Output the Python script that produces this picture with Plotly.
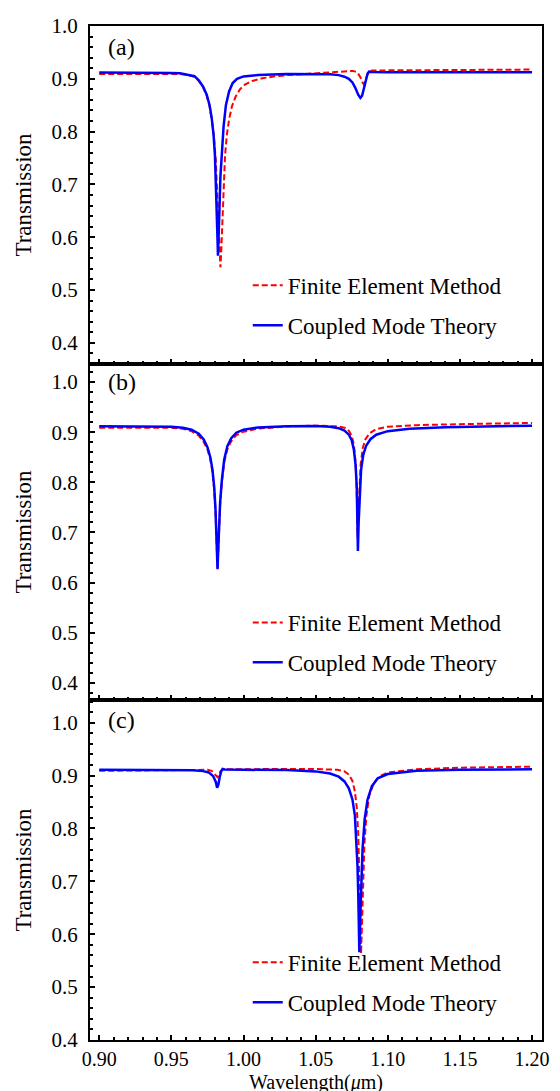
import plotly.graph_objects as go

# ---------------- data ----------------
# Panel (a)
wl_a_fem = [0.900, 0.920, 0.940, 0.950, 0.956, 0.962, 0.966, 0.969, 0.972, 0.9745, 0.9765, 0.978,
            0.9795, 0.9808, 0.9818, 0.9826, 0.9833, 0.9840, 0.9846, 0.9853, 0.9862, 0.9872, 0.9885,
            0.9900, 0.9920, 0.9945, 0.9975, 1.0010, 1.0060, 1.0130, 1.0200, 1.0300, 1.0450, 1.0600,
            1.0700, 1.0760, 1.0790, 1.0810, 1.0825, 1.0833, 1.0842, 1.0855, 1.0870, 1.0890, 1.1000,
            1.1500, 1.2000]
tr_a_fem = [0.909, 0.909, 0.9095, 0.9095, 0.909, 0.907, 0.904, 0.896, 0.884, 0.868, 0.848, 0.822,
            0.790, 0.745, 0.690, 0.635, 0.585, 0.543, 0.575, 0.630, 0.700, 0.755, 0.795,
            0.823, 0.848, 0.866, 0.880, 0.889, 0.896, 0.901, 0.904, 0.907, 0.9095, 0.9125,
            0.9145, 0.915, 0.912, 0.903, 0.893, 0.890, 0.894, 0.905, 0.913, 0.9155, 0.916,
            0.9165, 0.9175]
wl_a_cmt = [0.900, 0.920, 0.940, 0.950, 0.956, 0.962, 0.966, 0.969, 0.972, 0.9745, 0.9765, 0.978,
            0.9792, 0.9802, 0.9810, 0.9816, 0.9820, 0.9823, 0.9827, 0.9833, 0.9840, 0.9850, 0.9862,
            0.9878, 0.9900, 0.9925, 0.9955, 1.000, 1.010, 1.030, 1.050, 1.060, 1.066, 1.070, 1.073,
            1.0755, 1.0775, 1.0795, 1.0810, 1.0822, 1.0835, 1.0848, 1.0860, 1.0870, 1.0885, 1.100,
            1.150, 1.200]
tr_a_cmt = [0.912, 0.912, 0.9115, 0.911, 0.9105, 0.908, 0.905, 0.897, 0.885, 0.870, 0.850, 0.825,
            0.795, 0.755, 0.700, 0.640, 0.595, 0.565, 0.590, 0.650, 0.715, 0.770, 0.810,
            0.850, 0.876, 0.892, 0.900, 0.9045, 0.907, 0.909, 0.9095, 0.9085, 0.907, 0.904, 0.900,
            0.893, 0.883, 0.870, 0.864, 0.868, 0.882, 0.898, 0.910, 0.9135, 0.913, 0.9125,
            0.9125, 0.9125]

# Panel (b)
wl_b_fem = [0.900, 0.930, 0.950, 0.958, 0.964, 0.969, 0.9725, 0.975, 0.977, 0.9785, 0.9797, 0.9806,
            0.9812, 0.9817, 0.9820, 0.9824, 0.9830, 0.9838, 0.9850, 0.9866, 0.9888, 0.9915, 0.9950,
            1.000, 1.010, 1.030, 1.050, 1.060, 1.066, 1.070, 1.0730, 1.0750, 1.0765, 1.0775, 1.0783,
            1.0788, 1.0791, 1.0796, 1.0803, 1.0812, 1.0826, 1.0845, 1.0875, 1.0920, 1.1000, 1.1200,
            1.1500, 1.2000]
tr_b_fem = [0.909, 0.9095, 0.909, 0.907, 0.902, 0.893, 0.880, 0.866, 0.846, 0.820, 0.785, 0.740,
            0.695, 0.655, 0.630, 0.655, 0.705, 0.755, 0.800, 0.840, 0.866, 0.882, 0.894,
            0.901, 0.907, 0.9115, 0.913, 0.913, 0.9115, 0.909, 0.903, 0.893, 0.875, 0.845, 0.800,
            0.740, 0.690, 0.735, 0.790, 0.835, 0.868, 0.886, 0.898, 0.906, 0.911, 0.914,
            0.916, 0.9185]
wl_b_cmt = [0.900, 0.930, 0.950, 0.958, 0.964, 0.969, 0.9725, 0.975, 0.977, 0.9785, 0.9797, 0.9806,
            0.9812, 0.9817, 0.9820, 0.9824, 0.9830, 0.9838, 0.9850, 0.9866, 0.9888, 0.9915, 0.9950,
            1.000, 1.010, 1.030, 1.050, 1.060, 1.066, 1.070, 1.0730, 1.0750, 1.0765, 1.0777, 1.0785,
            1.0790, 1.0793, 1.0798, 1.0805, 1.0815, 1.0830, 1.0850, 1.0880, 1.0920, 1.1000, 1.1150,
            1.1400, 1.2000]
tr_b_cmt = [0.912, 0.912, 0.911, 0.909, 0.905, 0.897, 0.885, 0.870, 0.850, 0.825, 0.790, 0.745,
            0.700, 0.660, 0.627, 0.660, 0.710, 0.760, 0.805, 0.845, 0.872, 0.888, 0.899,
            0.905, 0.9095, 0.912, 0.9125, 0.911, 0.908, 0.903, 0.895, 0.884, 0.865, 0.835, 0.790,
            0.730, 0.663, 0.720, 0.780, 0.825, 0.855, 0.873, 0.886, 0.895, 0.902, 0.907,
            0.910, 0.913]

# Panel (c)
wl_c_fem = [0.900, 0.940, 0.965, 0.975, 0.978, 0.980, 0.9812, 0.9820, 0.9828, 0.9840, 0.9855, 0.990,
            1.030, 1.050, 1.065, 1.070, 1.073, 1.0755, 1.0772, 1.0785, 1.0795, 1.0803, 1.0810, 1.0815,
            1.0821, 1.0828, 1.0838, 1.0852, 1.0872, 1.0900, 1.0940, 1.1000, 1.1200, 1.1500, 1.2000]
tr_c_fem = [0.909, 0.910, 0.911, 0.911, 0.909, 0.903, 0.898, 0.897, 0.900, 0.908, 0.9115, 0.912,
            0.9125, 0.9125, 0.911, 0.908, 0.902, 0.890, 0.870, 0.840, 0.790, 0.720, 0.640, 0.563,
            0.630, 0.700, 0.770, 0.825, 0.862, 0.884, 0.898, 0.906, 0.912, 0.915, 0.917]
wl_c_cmt = [0.900, 0.940, 0.965, 0.972, 0.976, 0.979, 0.9808, 0.9817, 0.9825, 0.9835, 0.9845, 0.9855,
            0.987, 1.000, 1.030, 1.050, 1.060, 1.066, 1.070, 1.073, 1.0755, 1.0772, 1.0784, 1.0790,
            1.0795, 1.0800, 1.0803, 1.0808, 1.0815, 1.0825, 1.0840, 1.0860, 1.0890, 1.0930, 1.1000,
            1.1200, 1.1500, 1.2000]
tr_c_cmt = [0.911, 0.911, 0.910, 0.9085, 0.906, 0.899, 0.888, 0.877, 0.882, 0.897, 0.908, 0.9125,
            0.9115, 0.911, 0.9105, 0.908, 0.904, 0.898, 0.889, 0.876, 0.855, 0.825, 0.775, 0.730,
            0.680, 0.620, 0.566, 0.620, 0.690, 0.760, 0.818, 0.855, 0.880, 0.895, 0.903,
            0.909, 0.911, 0.912]

series_names = ["Finite Element Method", "Coupled Mode Theory"]
panel_labels = ["(a)", "(b)", "(c)"]
y_ranges = [[0.360, 1.0], [0.366, 1.036], [0.400, 1.043]]
x_range = [0.8936, 1.2069]
y_ticks = [0.4, 0.5, 0.6, 0.7, 0.8, 0.9, 1.0]
x_ticks = [0.90, 0.95, 1.00, 1.05, 1.10, 1.15, 1.20]
x_title = "Wavelength(<i>μ</i>m)"
y_title = "Transmission"

FONT = "Liberation Serif, Times New Roman, serif"
RED = "#ff0000"
BLUE = "#0000ff"

panels = [
    (wl_a_fem, tr_a_fem, wl_a_cmt, tr_a_cmt),
    (wl_b_fem, tr_b_fem, wl_b_cmt, tr_b_cmt),
    (wl_c_fem, tr_c_fem, wl_c_cmt, tr_c_cmt),
]
domains = [[0.6667, 1.0], [0.3353, 0.6667], [0.0, 0.3353]]
legend_names = ["legend", "legend2", "legend3"]
legend_y = [0.7654, 0.433, 0.0978]
label_y = [0.938, 0.947, 0.94]

fig = go.Figure()
for i, (xf, yf, xc, yc) in enumerate(panels):
    xa = "x" if i == 0 else f"x{i+1}"
    ya = "y" if i == 0 else f"y{i+1}"
    fig.add_trace(go.Scatter(x=xf, y=yf, mode="lines", name=series_names[0],
                             line=dict(color=RED, width=2, dash="6px,3px"),
                             xaxis=xa, yaxis=ya, legend=legend_names[i],
                             legendgroup=f"fem{i}"))
    fig.add_trace(go.Scatter(x=xc, y=yc, mode="lines", name=series_names[1],
                             line=dict(color=BLUE, width=2.5),
                             xaxis=xa, yaxis=ya, legend=legend_names[i],
                             legendgroup=f"cmt{i}"))

layout = dict(
    width=560, height=1091,
    margin=dict(l=82, r=26, t=18, b=59, autoexpand=False),
    paper_bgcolor="white", plot_bgcolor="white",
    font=dict(family=FONT, color="black", size=21),
    showlegend=True,
    annotations=[],
)

for i in range(3):
    sfx = "" if i == 0 else str(i + 1)
    xa_name = "x" + sfx
    ya_name = "y" + sfx
    layout["xaxis" + sfx] = dict(
        domain=[0, 1], anchor=ya_name, range=x_range,
        showline=True, linecolor="black", linewidth=2, mirror=True,
        ticks="inside", ticklen=5, tickwidth=1.5, tickcolor="black",
        tickvals=x_ticks, tickformat=".2f",
        minor=dict(dtick=0.01, tick0=0.9, ticks="inside", ticklen=3, tickwidth=1.5, tickcolor="black"),
        showgrid=False, zeroline=False, automargin=False,
        showticklabels=(i == 2),
        tickfont=dict(size=20, family=FONT),
        matches=None if i == 0 else "x",
    )
    layout["yaxis" + sfx] = dict(
        domain=domains[i], anchor=xa_name, range=y_ranges[i],
        showline=True, linecolor="black", linewidth=2, mirror=True,
        ticks="inside", ticklen=5, tickwidth=1.5, tickcolor="black",
        tickvals=y_ticks, tickformat=".1f",
        minor=dict(dtick=0.02, tick0=0.4, ticks="inside", ticklen=3, tickwidth=1.5, tickcolor="black"),
        showgrid=False, zeroline=False, automargin=False,
        tickfont=dict(size=21, family=FONT),
        ticklabelstandoff=6,
        title=dict(text=y_title, font=dict(size=23, family=FONT), standoff=13),
    )
    layout[legend_names[i]] = dict(
        x=0.349, y=legend_y[i], xanchor="left", yanchor="top",
        bgcolor="rgba(0,0,0,0)", borderwidth=0,
        font=dict(size=23, family=FONT, color="black"),
        traceorder="grouped", tracegroupgap=7, itemwidth=30,
    )
    layout["annotations"].append(dict(
        text=panel_labels[i], xref=f"{xa_name} domain", yref=f"{ya_name} domain",
        x=0.035, y=label_y[i], xanchor="left", yanchor="middle",
        showarrow=False, font=dict(size=24, family=FONT, color="black"),
    ))

# x-axis title placed just under the tick labels of the bottom panel
layout["annotations"].append(dict(
    text=x_title, xref="x3 domain", yref="paper",
    x=0.5, y=-0.0296, xanchor="center", yanchor="top",
    showarrow=False, font=dict(size=20, family=FONT, color="black"),
    borderpad=0,
))

fig.update_layout(**layout)
fig.write_html("out.html")
